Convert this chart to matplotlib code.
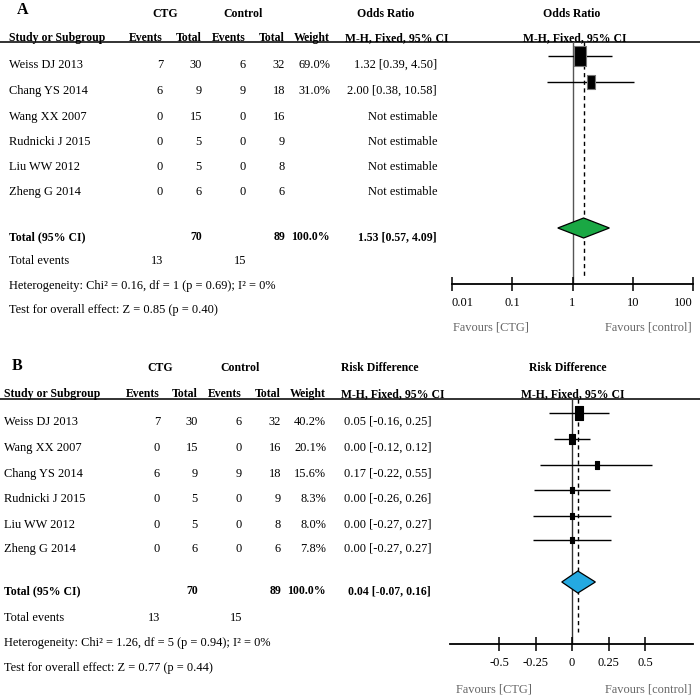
import numpy as np
import matplotlib
matplotlib.use("Agg")
import matplotlib.pyplot as plt
from matplotlib.path import Path
from matplotlib.ticker import NullLocator

plt.rcParams['font.family'] = ['Liberation Serif', 'DejaVu Serif']

# ------------------------------------------------------------
# Data, panel A (odds ratio)
# ------------------------------------------------------------
studies_a = ["Weiss DJ 2013", "Chang YS 2014", "Wang XX 2007",
             "Rudnicki J 2015", "Liu WW 2012", "Zheng G 2014"]
ctg_events_a = [7, 6, 0, 0, 0, 0]
ctg_total_a = [30, 9, 15, 5, 5, 6]
ctl_events_a = [6, 9, 0, 0, 0, 0]
ctl_total_a = [32, 18, 16, 9, 8, 6]
weight_a = [69.0, 31.0, np.nan, np.nan, np.nan, np.nan]
est_a = [1.32, 2.00, np.nan, np.nan, np.nan, np.nan]
lo_a = [0.39, 0.38, np.nan, np.nan, np.nan, np.nan]
hi_a = [4.50, 10.58, np.nan, np.nan, np.nan, np.nan]
total_a = dict(n1=70, n2=89, w=100.0, est=1.53, lo=0.57, hi=4.09, e1=13, e2=15)
het_a = "Heterogeneity: Chi\u00b2 = 0.16, df = 1 (p = 0.69); I\u00b2 = 0%"
test_a = "Test for overall effect: Z = 0.85 (p = 0.40)"
ticks_a = [0.01, 0.1, 1, 10, 100]

# ------------------------------------------------------------
# Data, panel B (risk difference)
# ------------------------------------------------------------
studies_b = ["Weiss DJ 2013", "Wang XX 2007", "Chang YS 2014",
             "Rudnicki J 2015", "Liu WW 2012", "Zheng G 2014"]
ctg_events_b = [7, 0, 6, 0, 0, 0]
ctg_total_b = [30, 15, 9, 5, 5, 6]
ctl_events_b = [6, 0, 9, 0, 0, 0]
ctl_total_b = [32, 16, 18, 9, 8, 6]
weight_b = [40.2, 20.1, 15.6, 8.3, 8.0, 7.8]
est_b = [0.05, 0.00, 0.17, 0.00, 0.00, 0.00]
lo_b = [-0.16, -0.12, -0.22, -0.26, -0.27, -0.27]
hi_b = [0.25, 0.12, 0.55, 0.26, 0.27, 0.27]
total_b = dict(n1=70, n2=89, w=100.0, est=0.04, lo=-0.07, hi=0.16, e1=13, e2=15)
het_b = "Heterogeneity: Chi\u00b2 = 1.26, df = 5 (p = 0.94); I\u00b2 = 0%"
test_b = "Test for overall effect: Z = 0.77 (p = 0.44)"
ticks_b = [-0.5, -0.25, 0, 0.25, 0.5]

# ------------------------------------------------------------
# Layout (pixels, y from top)
# ------------------------------------------------------------
W, H = 700, 696
FS = 8.9            # body text
FSH = 8.5           # bold header text
BASE = 4.8          # baseline below the text centre line
MARK_UP = 7         # forest marks sit a bit above the text centre

lay_a = dict(letter="A", letter_base=13.5, measure="Odds Ratio", top=42, h1=12, h2=36,
             rows=[63, 89, 115, 140, 165, 190], total=235, te=259, het=284, test=308,
             study=9, ev1=163, tot1=202, ev2=246, tot2=285, wt=330, ci=437,
             c_ctg=165, c_ctl=243, c_m1=386, c_mh1=397, c_m2=572, c_mh2=575,
             ax_l=452, ax_r=693, axis=284, fav=326, dash_end=277, diam=10,
             green="#1aa844", vcol="#555555", edge="#777777",
             sq_k=2.45)
lay_b = dict(letter="B", letter_base=370, measure="Risk Difference", top=399, h1=366, h2=392,
             rows=[420, 446, 472, 497, 523, 547], total=589, te=616, het=641, test=666,
             study=4, ev1=160, tot1=198, ev2=242, tot2=281, wt=326, ci=431,
             c_ctg=160, c_ctl=240, c_m1=380, c_mh1=393, c_m2=568, c_mh2=573,
             ax_l=450, ax_r=693, axis=644, fav=688, dash_end=632, diam=11,
             green="#24a9e1", vcol="#333333", edge="#000000",
             sq_k=2.1)

fig = plt.figure(figsize=(W / 100, H / 100), dpi=100)
fig.patch.set_facecolor("white")
tx = fig.add_axes([0, 0, 1, 1])
tx.set_xlim(0, W)
tx.set_ylim(H, 0)
tx.axis("off")


def put(x, y, s, ha="left", bold=False, color="black", size=None):
    if size is None:
        size = FS
    tx.text(x, y + BASE, s, ha=ha, va="baseline", fontsize=size,
            fontweight="bold" if bold else "normal", color=color)


rect_marker = Path([[-0.3, -0.5], [0.3, -0.5], [0.3, 0.5], [-0.3, 0.5], [-0.3, -0.5]],
                   [Path.MOVETO, Path.LINETO, Path.LINETO, Path.LINETO, Path.CLOSEPOLY])


def panel(L, studies, e1, n1, e2, n2, wts, est, lo, hi, tot, het, test, ticks, logscale):
    fmt = "{:.2f}"
    # header
    tx.text(L["study"] + 8, L["letter_base"], L["letter"], fontsize=11.5,
            fontweight="bold", ha="left", va="baseline")
    put(L["c_ctg"], L["h1"], "CTG", ha="center", bold=True, size=FSH)
    put(L["c_ctl"], L["h1"], "Control", ha="center", bold=True, size=FSH)
    put(L["c_m1"], L["h1"], L["measure"], ha="center", bold=True, size=FSH)
    put(L["c_m2"], L["h1"], L["measure"], ha="center", bold=True, size=FSH)
    put(L["study"], L["h2"], "Study or Subgroup", bold=True, size=FSH)
    for key, lab in [("ev1", "Events"), ("tot1", "Total"), ("ev2", "Events"),
                     ("tot2", "Total"), ("wt", "Weight")]:
        put(L[key], L["h2"], lab, ha="right", bold=True, size=FSH)
    put(L["c_mh1"], L["h2"], "M-H, Fixed, 95% CI", ha="center", bold=True, size=FSH)
    put(L["c_mh2"], L["h2"], "M-H, Fixed, 95% CI", ha="center", bold=True, size=FSH)
    tx.axhline(L["top"], color="#222222", lw=1.3)

    # study rows
    for i, y in enumerate(L["rows"]):
        put(L["study"], y, studies[i])
        put(L["ev1"], y, str(e1[i]), ha="right")
        put(L["tot1"], y, str(n1[i]), ha="right")
        put(L["ev2"], y, str(e2[i]), ha="right")
        put(L["tot2"], y, str(n2[i]), ha="right")
        if np.isnan(est[i]):
            put(L["ci"], y, "Not estimable", ha="right")
        else:
            put(L["wt"], y, f"{wts[i]:.1f}%", ha="right")
            put(L["ci"], y, f"{fmt.format(est[i])} [{fmt.format(lo[i])}, {fmt.format(hi[i])}]",
                ha="right")

    # totals and footers
    put(L["study"], L["total"], "Total (95% CI)", bold=True, size=FSH)
    put(L["tot1"], L["total"], str(tot["n1"]), ha="right", bold=True, size=FSH)
    put(L["tot2"], L["total"], str(tot["n2"]), ha="right", bold=True, size=FSH)
    put(L["wt"], L["total"], f"{tot['w']:.1f}%", ha="right", bold=True, size=FSH)
    put(L["ci"], L["total"],
        f"{fmt.format(tot['est'])} [{fmt.format(tot['lo'])}, {fmt.format(tot['hi'])}]",
        ha="right", bold=True, size=FSH)
    put(L["study"], L["te"], "Total events")
    put(L["ev1"], L["te"], str(tot["e1"]), ha="right")
    put(L["ev2"], L["te"], str(tot["e2"]), ha="right")
    put(L["study"], L["het"], het)
    put(L["study"], L["test"], test)

    # forest plot axes; y in the same pixel units as the table
    ax = fig.add_axes([L["ax_l"] / W, 1 - L["axis"] / H,
                       (L["ax_r"] - L["ax_l"]) / W, (L["axis"] - L["top"]) / H])
    ax.set_facecolor("none")
    if logscale:
        ax.set_xscale("log")
        ax.set_xlim(ticks[0], ticks[-1])
        null = 1
    else:
        px_per_unit = 146.0
        zero = 572.0
        ax.set_xlim((L["ax_l"] - zero) / px_per_unit, (L["ax_r"] - zero) / px_per_unit)
        null = 0
    ax.set_ylim(L["axis"], L["top"])
    for s in ["top", "left", "right"]:
        ax.spines[s].set_visible(False)
    ax.spines["bottom"].set_linewidth(1.3)
    ax.set_xticks(ticks)
    ax.set_xticklabels([f"{t:g}" for t in ticks])
    ax.xaxis.set_minor_locator(NullLocator())
    ax.set_yticks([])
    ax.tick_params(axis="x", direction="inout", length=10, width=1.1, pad=4.0,
                   labelsize=FS, colors="black")
    if logscale:
        # end labels of the log axis sit inside the axis span
        labs = ax.get_xticklabels()
        labs[0].set_horizontalalignment("left")
        labs[-1].set_horizontalalignment("right")

    ax.axvline(null, color=L["vcol"], lw=1.0, zorder=1)
    ax.vlines(tot["est"], L["top"], L["dash_end"], colors="black", lw=1.0,
              linestyles=(0, (3, 2.5)), zorder=1)

    for i, y in enumerate(L["rows"]):
        if np.isnan(est[i]):
            continue
        ym = y - MARK_UP
        ax.hlines(ym, lo[i], hi[i], colors="black", lw=1.0, zorder=2)
        side = L["sq_k"] * np.sqrt(wts[i])  # px, area ~ weight
        ax.plot([est[i]], [ym], marker=rect_marker, ms=side * 0.72,
                mfc="black", mec=L["edge"], mew=0.8, ls="none", zorder=3)

    yd = L["total"] - MARK_UP
    h = L["diam"]
    ax.fill([tot["lo"], tot["est"], tot["hi"], tot["est"]], [yd, yd - h, yd, yd + h],
            facecolor=L["green"], edgecolor="black", lw=0.9, zorder=3)

    put(L["ax_l"] + (1 if logscale else 6), L["fav"], "Favours [CTG]", color="#666666")
    put(L["ax_r"] - 1, L["fav"], "Favours [control]", ha="right", color="#666666")


panel(lay_a, studies_a, ctg_events_a, ctg_total_a, ctl_events_a, ctl_total_a,
      weight_a, est_a, lo_a, hi_a, total_a, het_a, test_a, ticks_a, True)
panel(lay_b, studies_b, ctg_events_b, ctg_total_b, ctl_events_b, ctl_total_b,
      weight_b, est_b, lo_b, hi_b, total_b, het_b, test_b, ticks_b, False)

fig.savefig("out.png", dpi=100, facecolor="white")
